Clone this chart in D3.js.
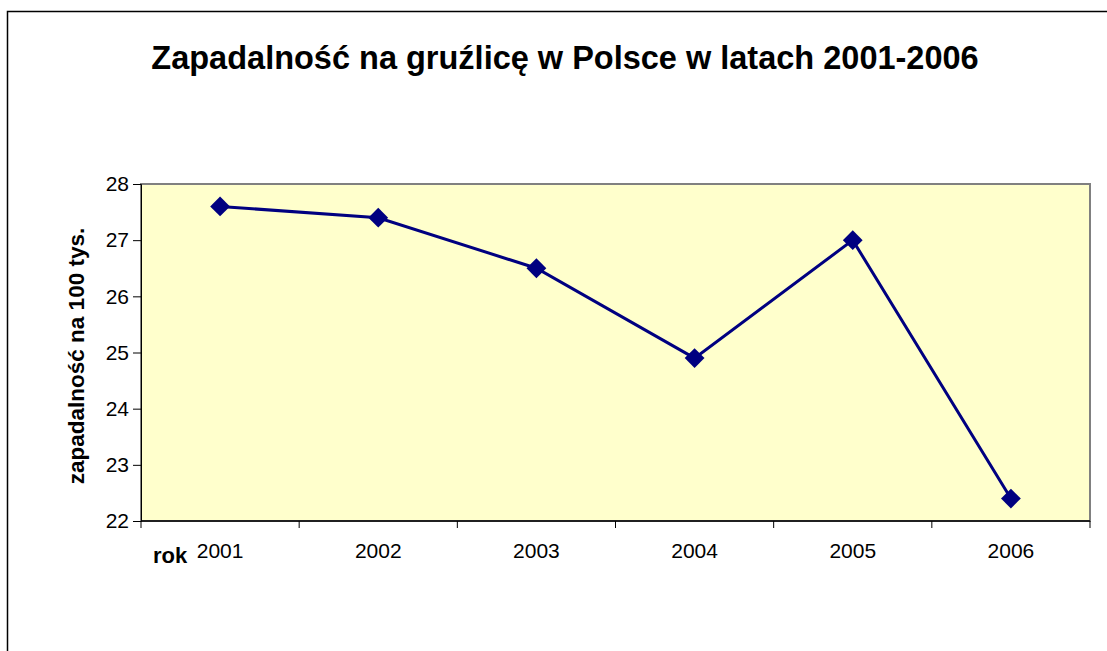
<!DOCTYPE html>
<html lang="pl">
<head>
  <meta charset="UTF-8">
  <title>Zapadalność na gruźlicę</title>
  <script src="https://d3js.org/d3.v7.min.js"></script>
  <style>
    body { margin: 0; background: #fff; overflow: hidden; }
    text { font-family: Arial, "Liberation Sans", sans-serif; }
  </style>
</head>
<body>
  <div id="chart"></div>
  <script>
    // Data
    const years = ["2001", "2002", "2003", "2004", "2005", "2006"];
    const incidence = [27.6, 27.4, 26.5, 24.9, 27.0, 22.4];
    const yTicks = [22, 23, 24, 25, 26, 27, 28];

    var width = 1107;
    var height = 651;

    var svg = d3.select("#chart")
      .append("svg")
      .attr("width", width)
      .attr("height", height)
      .style("display", "block");

    // outer frame
    svg.append("rect")
      .attr("x", 7.5)
      .attr("y", 11.5)
      .attr("width", width)
      .attr("height", height)
      .attr("fill", "#fff")
      .attr("stroke", "#000")
      .attr("stroke-width", 1.5);

    // plot area
    var plotLeft = 141, plotRight = 1090, plotTop = 184, plotBottom = 521;

    var x = d3.scaleBand()
      .domain(years)
      .range([plotLeft, plotRight]);

    var y = d3.scaleLinear()
      .domain([22, 28])
      .range([plotBottom, plotTop]);

    svg.append("rect")
      .attr("x", plotLeft)
      .attr("y", plotTop)
      .attr("width", plotRight - plotLeft)
      .attr("height", plotBottom - plotTop)
      .attr("fill", "#FFFFCC")
      .attr("stroke", "#808080")
      .attr("stroke-width", 2);

    // y axis
    var yAxis = svg.append("g")
      .attr("transform", "translate(" + plotLeft + ",0)")
      .call(d3.axisLeft(y).tickValues(yTicks).tickFormat(d3.format("d")).tickSize(8).tickPadding(4));
    yAxis.selectAll("text")
      .style("font-size", "21px")
      .attr("fill", "#000");
    yAxis.selectAll("line, path").attr("stroke", "#000");

    // x axis, ticks between categories
    var xAxis = svg.append("g")
      .attr("transform", "translate(0," + plotBottom + ")");
    xAxis.append("line")
      .attr("x1", plotLeft).attr("x2", plotRight)
      .attr("stroke", "#000").attr("stroke-width", 1.5);
    xAxis.selectAll(".tick")
      .data(years.concat(["end"]))
      .enter()
      .append("line")
      .attr("x1", function (d, i) { return i < years.length ? x(d) : plotRight; })
      .attr("x2", function (d, i) { return i < years.length ? x(d) : plotRight; })
      .attr("y1", 0).attr("y2", 7)
      .attr("stroke", "#000");
    xAxis.selectAll(".lbl")
      .data(years)
      .enter()
      .append("text")
      .attr("x", function (d) { return x(d) + x.bandwidth() / 2; })
      .attr("y", 37)
      .attr("text-anchor", "middle")
      .style("font-size", "21px")
      .text(function (d) { return d; });

    // line
    var line = d3.line()
      .x(function (d, i) { return x(years[i]) + x.bandwidth() / 2; })
      .y(function (d) { return y(d); });

    svg.append("path")
      .datum(incidence)
      .attr("d", line)
      .attr("fill", "none")
      .attr("stroke", "#000080")
      .attr("stroke-width", 3);

    svg.append("g")
      .selectAll("path")
      .data(incidence)
      .enter()
      .append("path")
      .attr("d", d3.symbol().type(d3.symbolDiamond2).size(250))
      .attr("transform", function (d, i) {
        return "translate(" + (x(years[i]) + x.bandwidth() / 2) + "," + y(d) + ")";
      })
      .attr("fill", "#000080");

    // title
    svg.append("text")
      .attr("x", 565)
      .attr("y", 69)
      .attr("text-anchor", "middle")
      .style("font-size", "32.5px")
      .style("font-weight", "bold")
      .text("Zapadalność na gruźlicę w Polsce w latach 2001-2006");

    // axis titles
    svg.append("text")
      .attr("transform", "translate(84,356) rotate(-90)")
      .attr("text-anchor", "middle")
      .style("font-size", "22.5px")
      .style("font-weight", "bold")
      .text("zapadalność na 100 tys.");

    svg.append("text")
      .attr("x", 153)
      .attr("y", 563)
      .style("font-size", "22px")
      .style("font-weight", "bold")
      .text("rok");
  </script>
</body>
</html>
